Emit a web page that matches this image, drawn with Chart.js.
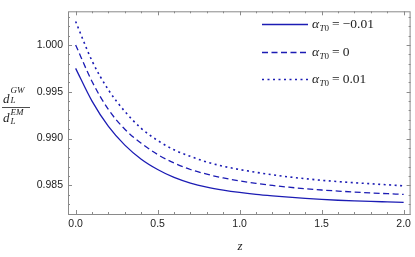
<!DOCTYPE html>
<html>
<head>
<meta charset="utf-8">
<script src="https://cdn.jsdelivr.net/npm/chart.js@4.4.0/dist/chart.umd.min.js"></script>
<style>
  html, body { margin: 0; padding: 0; background: #fff; }
  #wrap { width: 415px; height: 257px; }
</style>
</head>
<body>
<div id="wrap"><canvas id="chart" width="415" height="257"></canvas></div>
<script>
// redshift samples and the distance ratio
const zValues    = [0, 0.1, 0.2, 0.3, 0.4, 0.5, 0.6, 0.7, 0.8, 0.9, 1.0, 1.1, 1.2, 1.3, 1.4, 1.5, 1.6, 1.7, 1.8, 1.9, 2.0];
const alphaMinus = [0.9975, 0.9940, 0.9913, 0.9893, 0.9878, 0.9867, 0.98585, 0.98525, 0.98482, 0.98450, 0.98425, 0.98405, 0.98389, 0.98375, 0.98362, 0.98351, 0.98342, 0.98335, 0.98329, 0.98324, 0.98319];
const alphaZero  = [1.0000, 0.9961, 0.9931, 0.9910, 0.9895, 0.9883, 0.9874, 0.9867, 0.9862, 0.98580, 0.98548, 0.98522, 0.98500, 0.98481, 0.98465, 0.98451, 0.98440, 0.98429, 0.98420, 0.98412, 0.98404];
const alphaPlus  = [1.0025, 0.9983, 0.9952, 0.9929, 0.9911, 0.9898, 0.9888, 0.9881, 0.9875, 0.98705, 0.98670, 0.98640, 0.98614, 0.98591, 0.98572, 0.98555, 0.98541, 0.98529, 0.98518, 0.98507, 0.98496];
const alphaLabels = ['\u22120.01', '0', '0.01'];
const xTicks = [0, 0.5, 1.0, 1.5, 2.0];
const yTicks = [0.985, 0.990, 0.995, 1.000];

const blue = '#1c1cb4';
const dashes = [[], [6, 3.5], [2, 3.5]];

function pts(ys) {
  return zValues.map((z, i) => ({ x: z, y: ys[i] }));
}

const frame = {
  id: 'frame',
  afterDraw(chart) {
    const { ctx, chartArea: a, scales: { x, y } } = chart;
    ctx.save();
    ctx.strokeStyle = '#8a8a8a';
    ctx.lineWidth = 1;
    ctx.strokeRect(a.left + 0.5, a.top + 0.5, a.right - a.left - 1, a.bottom - a.top);

    // inward ticks on all four sides
    ctx.beginPath();
    for (let i = 0; i <= 20; i++) {
      const px = Math.round(x.getPixelForValue(i / 10)) + 0.5;
      const len = i % 5 === 0 ? 4 : 2;
      ctx.moveTo(px, a.bottom); ctx.lineTo(px, a.bottom - len);
      ctx.moveTo(px, a.top); ctx.lineTo(px, a.top + len);
    }
    for (let i = 982; i <= 1003; i++) {
      const py = Math.round(y.getPixelForValue(i / 1000)) + 0.5;
      const len = i % 5 === 0 ? 4 : 2;
      ctx.moveTo(a.left, py); ctx.lineTo(a.left + len, py);
      ctx.moveTo(a.right, py); ctx.lineTo(a.right - len, py);
    }
    ctx.stroke();

    // y label: d_L^GW / d_L^EM
    ctx.fillStyle = '#222';
    ctx.textBaseline = 'alphabetic';
    ctx.textAlign = 'left';
    ctx.font = 'italic 13px "Liberation Serif"';
    ctx.fillText('d', 3, 103);
    ctx.fillText('d', 3, 122);
    ctx.font = 'italic 9px "Liberation Serif"';
    ctx.fillText('GW', 10.5, 93);
    ctx.fillText('L', 10.5, 103);
    ctx.fillText('EM', 10.5, 115);
    ctx.fillText('L', 10.5, 124);
    ctx.fillRect(2, 107, 28, 0.8);

    // x label
    ctx.font = 'italic 13px "Liberation Serif"';
    ctx.textAlign = 'center';
    ctx.fillText('z', 240, 250);

    // legend
    ctx.textAlign = 'left';
    const rows = [24, 52, 79];
    rows.forEach((ry, i) => {
      ctx.strokeStyle = blue;
      ctx.lineWidth = i === 2 ? 1.6 : 1.3;
      ctx.setLineDash(dashes[i]);
      ctx.beginPath();
      ctx.moveTo(262, ry + 0.5); ctx.lineTo(308, ry + 0.5);
      ctx.stroke();
      ctx.setLineDash([]);
      let tx = 312;
      const base = ry + 4;
      ctx.fillStyle = '#222';
      ctx.font = 'italic 13.5px "Liberation Serif"';
      ctx.fillText('\u03b1', tx, base);
      tx += ctx.measureText('\u03b1').width + 0.5;
      ctx.font = 'italic 9px "Liberation Serif"';
      ctx.fillText('T', tx, base + 3);
      tx += ctx.measureText('T').width;
      ctx.font = '9px "Liberation Serif"';
      ctx.fillText('0', tx, base + 3);
      tx += ctx.measureText('0').width + 3;
      ctx.font = '13.5px "Liberation Serif"';
      ctx.fillText('=', tx, base);
      tx += ctx.measureText('=').width + 3;
      ctx.fillText(alphaLabels[i], tx, base);
    });
    ctx.restore();
  }
};

new Chart(document.getElementById('chart'), {
  type: 'line',
  data: {
    datasets: [alphaMinus, alphaZero, alphaPlus].map((ys, i) => ({
      label: '\u03b1T0 = ' + alphaLabels[i],
      data: pts(ys),
      borderColor: blue,
      borderWidth: i === 2 ? 1.6 : 1.3,
      borderDash: dashes[i],
      pointRadius: 0,
      fill: false,
      cubicInterpolationMode: 'monotone'
    }))
  },
  options: {
    responsive: false,
    animation: false,
    devicePixelRatio: 1,
    layout: { padding: { top: 1, right: 2, left: 0, bottom: 0 } },
    plugins: { legend: { display: false }, tooltip: { enabled: false } },
    scales: {
      x: {
        type: 'linear',
        min: -0.0465,
        max: 2.0423,
        afterFit(s) { s.height = 43; },
        afterBuildTicks(s) { s.ticks = xTicks.map(v => ({ value: v })); },
        grid: { display: false, drawTicks: false },
        border: { display: false },
        ticks: {
          padding: 4,
          color: '#222',
          font: { family: '"Liberation Sans"', size: 10.5 },
          maxRotation: 0,
          callback: v => v.toFixed(1)
        }
      },
      y: {
        type: 'linear',
        min: 0.98195,
        max: 1.00359,
        afterFit(s) { s.width = 68; },
        afterBuildTicks(s) { s.ticks = yTicks.map(v => ({ value: v })); },
        grid: { display: false, drawTicks: false },
        border: { display: false },
        ticks: {
          padding: 5,
          color: '#222',
          font: { family: '"Liberation Sans"', size: 10.5 },
          callback: v => v.toFixed(3)
        }
      }
    }
  },
  plugins: [frame]
});
</script>
</body>
</html>
